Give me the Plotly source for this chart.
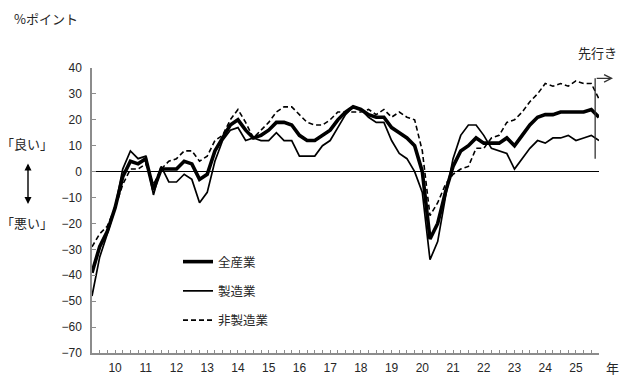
import plotly.graph_objects as go

# Quarterly data, Jun 2009 ... Sep 2025, plus forecast (先行き) for Dec 2025
year_labels = ["10", "11", "12", "13", "14", "15", "16", "17", "18", "19",
               "20", "21", "22", "23", "24", "25"]

all_industries = [-39, -29, -23,
                  -14, -2, 4, 3,
                  5, -7, 1, 1,
                  1, 4, 3, -3,
                  -1, 8, 13, 18,
                  20, 16, 13, 14,
                  16, 19, 19, 18,
                  14, 12, 12, 14,
                  16, 20, 23, 25,
                  24, 22, 21, 21,
                  17, 15, 13, 10,
                  0, -26, -20, -8,
                  2, 8, 10, 13,
                  11, 11, 11, 13,
                  10, 14, 18, 21,
                  22, 22, 23, 23,
                  23, 23, 24,
                  21]

manufacturing = [-48, -33, -24,
                 -14, 1, 8, 5,
                 6, -9, 2, -4,
                 -4, -1, -3, -12,
                 -8, 4, 12, 16,
                 17, 12, 13, 12,
                 12, 15, 12, 12,
                 6, 6, 6, 10,
                 12, 17, 22, 25,
                 24, 21, 19, 19,
                 12, 7, 5, 0,
                 -8, -34, -27, -10,
                 5, 14, 18, 18,
                 14, 9, 8, 7,
                 1, 5, 9, 12,
                 11, 13, 13, 14,
                 12, 13, 14,
                 12]

non_manufacturing = [-29, -24, -21,
                     -14, -5, 1, 1,
                     3, -5, 1, 4,
                     5, 8, 8, 4,
                     6, 12, 14, 20,
                     24, 19, 13, 16,
                     19, 23, 25, 25,
                     22, 19, 18, 18,
                     20, 23, 23, 23,
                     23, 24, 22, 24,
                     21, 23, 21, 20,
                     8, -17, -12, -5,
                     -1, 1, 2, 9,
                     9, 13, 14, 19,
                     20, 23, 27, 30,
                     34, 33, 34, 33,
                     35, 34, 34,
                     28]

series_names = ["全産業", "製造業", "非製造業"]

n = len(all_industries)
xs = list(range(n))
first_label_idx = 3  # Mar 2010
tickvals = xs
ticktext = []
for i in xs:
    k = (i - first_label_idx)
    if k >= 0 and k % 4 == 0 and k // 4 < len(year_labels):
        ticktext.append(year_labels[k // 4])
    else:
        ticktext.append("")

JP = "Noto Sans CJK JP"
NUM = "Liberation Sans"
TXT = "#262626"
AX = "#8c8c8c"

fig = go.Figure()
fig.add_trace(go.Scatter(x=xs, y=all_industries, mode="lines", name=series_names[0],
                         line=dict(color="black", width=3.6), legendgroup="a"))
fig.add_trace(go.Scatter(x=xs, y=manufacturing, mode="lines", name=series_names[1],
                         line=dict(color="black", width=1.7), legendgroup="b"))
fig.add_trace(go.Scatter(x=xs, y=non_manufacturing, mode="lines", name=series_names[2],
                         line=dict(color="black", width=1.6, dash="5px,3px"), legendgroup="c"))

L, R, T, B = 92, 33, 68, 30
W, H = 632, 383
pw, ph = W - L - R, H - T - B


def px(xp):
    return (xp - L) / pw


def py(yp):
    return (H - B - yp) / ph


fig.update_layout(
    width=W, height=H,
    margin=dict(l=L, r=R, t=T, b=B, autoexpand=False),
    paper_bgcolor="white", plot_bgcolor="white",
    font=dict(family=NUM, size=12, color=TXT),
    showlegend=True,
    legend=dict(x=px(178), y=py(247), xanchor="left", yanchor="top",
                bgcolor="rgba(0,0,0,0)", font=dict(family=JP, size=12.5, color=TXT),
                tracegroupgap=10, traceorder="grouped"),
)

fig.update_xaxes(range=[0, n - 1], tickmode="array", tickvals=tickvals, ticktext=ticktext,
                 ticks="inside", ticklen=3, tickcolor=AX, tickwidth=1,
                 showline=True, linecolor=AX, linewidth=1.5, mirror=False,
                 showgrid=False, zeroline=False, automargin=False,
                 tickfont=dict(family=NUM, size=12, color=TXT), ticklabelstandoff=3)
fig.update_yaxes(range=[-70, 40], tickmode="linear", tick0=-70, dtick=10,
                 ticks="inside", ticklen=4, tickcolor=AX, tickwidth=1,
                 showline=True, linecolor=AX, linewidth=1.5, automargin=False,
                 showgrid=False, zeroline=True, zerolinecolor="black", zerolinewidth=1.2,
                 tickfont=dict(family=NUM, size=12, color=TXT), ticklabelstandoff=6)

# forecast divider line
split_x = n - 1.5
fig.add_shape(type="line", xref="x", yref="y", x0=split_x, x1=split_x, y0=5, y1=36,
              line=dict(color="#333333", width=1.3))

JPF = dict(family=JP, size=13, color=TXT)
ann = []
ann.append(dict(text="%ポイント", xref="paper", yref="paper", x=px(12), y=py(19),
                xanchor="left", yanchor="middle", showarrow=False, font=JPF))
ann.append(dict(text="「良い」", xref="paper", yref="paper", x=px(27), y=py(143),
                xanchor="center", yanchor="middle", showarrow=False, font=JPF))
ann.append(dict(text="「悪い」", xref="paper", yref="paper", x=px(27), y=py(222),
                xanchor="center", yanchor="middle", showarrow=False, font=JPF))
ann.append(dict(text="", xref="paper", yref="paper", x=px(28), y=py(204),
                ax=0, ay=-42, axref="pixel", ayref="pixel", showarrow=True,
                arrowhead=2, startarrowhead=2, arrowside="end+start",
                arrowsize=1, arrowwidth=1.4, arrowcolor="black"))
ann.append(dict(text="年", xref="paper", yref="paper", x=px(612), y=py(367),
                xanchor="center", yanchor="middle", showarrow=False, font=JPF))
ann.append(dict(text="先行き", xref="paper", yref="paper", x=px(597), y=py(52),
                xanchor="center", yanchor="middle", showarrow=False, font=JPF))
# arrow to the right from top of divider
top_px = T + (40 - 36) / 110 * ph
div_px = L + split_x / (n - 1) * pw
ann.append(dict(text="", xref="paper", yref="paper", x=px(613), y=py(top_px),
                ax=-(613 - div_px), ay=0, axref="pixel", ayref="pixel", showarrow=True,
                arrowhead=5, arrowsize=1.2, arrowwidth=1.2, arrowcolor="#333333"))
fig.update_layout(annotations=ann)

fig.write_html("out.html")
